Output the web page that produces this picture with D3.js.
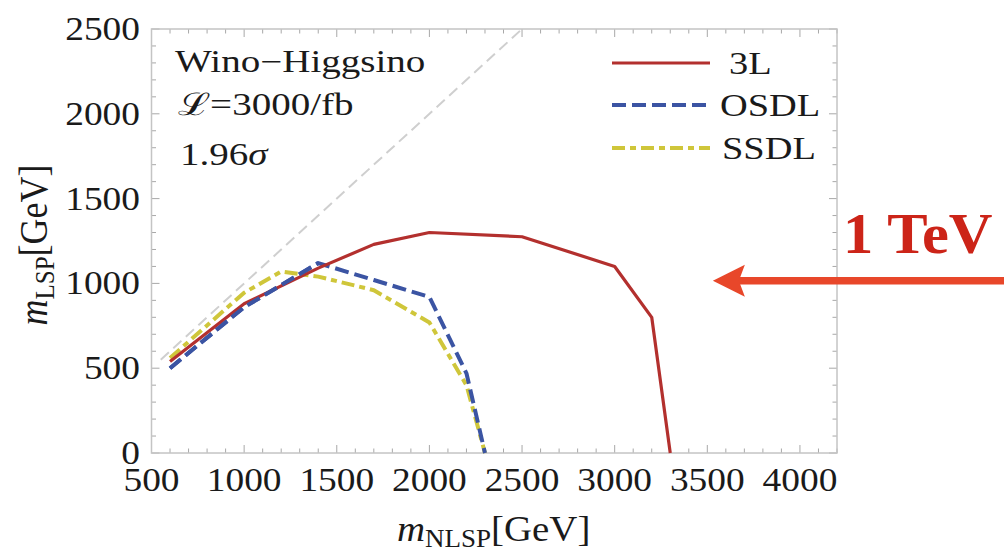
<!DOCTYPE html>
<html><head><meta charset="utf-8">
<script src="https://cdn.jsdelivr.net/npm/d3@7"></script>
<style>
html,body{margin:0;padding:0;background:#fff;}
svg{display:block;}
</style></head>
<body>
<svg id="c" width="1004" height="553" font-family="'Liberation Serif', Tinos, 'Times New Roman', serif"></svg>
<script>
// ---- data (GeV) ----
const xTicks = [500,1000,1500,2000,2500,3000,3500,4000];
const yTicks = [0,500,1000,1500,2000,2500];
const seriesNames = ["3L","OSDL","SSDL"];
const mNLSP_3L   = [600,1000,1400,1700,2000,2500,3000,3200,3300];
const mLSP_3L    = [540, 880,1090,1230,1300,1275,1100, 800,   0];
const mNLSP_OSDL = [600,1000,1400,1700,2000,2200,2300];
const mLSP_OSDL  = [500, 860,1120,1020, 920, 470,   0];
const mNLSP_SSDL = [600,1000,1200,1400,1700,2000,2200,2300];
const mLSP_SSDL  = [560, 945,1070,1040, 960, 770, 400,   0];
const diagX = [550,2500];
const arrowLevel = 1015;   // GeV, level the arrow marks
const arrowTip = 3530;     // GeV

const FONT = "'Liberation Serif', Tinos, 'Times New Roman', serif";
const svg = d3.select("#c");
const L=151.5, R=837, T=29, B=453;
const x = d3.scaleLinear().domain([500,4200]).range([L,R]);
const y = d3.scaleLinear().domain([0,2500]).range([B,T]);

function stext(g, tx, ty, sx, size, anchor){
  return g.append("text")
    .attr("transform",`translate(${tx},${ty}) scale(${sx},1)`)
    .attr("font-family",FONT).attr("fill","#1a1a1a")
    .attr("font-size",size).attr("text-anchor",anchor||"start");
}

// frame & ticks
const frameCol="#c4c4c4", tickCol="#a8a8a8";
const minorX = d3.range(500,4201,100), minorY = d3.range(0,2501,100);
const tk = svg.append("g").attr("stroke",tickCol).attr("stroke-width",1);
minorX.forEach(v=>{
  const len = (v%500===0)?8:4.5;
  tk.append("line").attr("x1",x(v)).attr("x2",x(v)).attr("y1",B).attr("y2",B-len);
  tk.append("line").attr("x1",x(v)).attr("x2",x(v)).attr("y1",T).attr("y2",T+len);
});
minorY.forEach(v=>{
  const len = (v%500===0)?8:4.5;
  tk.append("line").attr("y1",y(v)).attr("y2",y(v)).attr("x1",L).attr("x2",L+len);
  tk.append("line").attr("y1",y(v)).attr("y2",y(v)).attr("x1",R).attr("x2",R-len);
});
svg.append("rect").attr("x",L).attr("y",T).attr("width",R-L).attr("height",B-T)
  .attr("fill","none").attr("stroke",frameCol).attr("stroke-width",1.5);

// tick labels
xTicks.forEach(v=>{ stext(svg, x(v), 491, 1.1, 34, "middle").text(v); });
yTicks.forEach(v=>{ stext(svg, 140, y(v)+11, 1.1, 34, "end").text(v); });

// diagonal
const line = d3.line().x(d=>x(d[0])).y(d=>y(d[1]));
svg.append("path").attr("d", line(diagX.map(v=>[v,v])))
  .attr("fill","none").attr("stroke","#cfcfcf").attr("stroke-width",2)
  .attr("stroke-dasharray","11,6");

// series
const colors = {"3L":"#b3302e","OSDL":"#3b54a3","SSDL":"#cfc63a"};
const dashes = {"3L":null,"OSDL":"14,6","SSDL":"13,5,6,5"};
const widths = {"3L":3.2,"OSDL":4,"SSDL":4};
const data = {
  "3L": d3.zip(mNLSP_3L, mLSP_3L),
  "OSDL": d3.zip(mNLSP_OSDL, mLSP_OSDL),
  "SSDL": d3.zip(mNLSP_SSDL, mLSP_SSDL)
};
["SSDL","OSDL","3L"].forEach(n=>{
  svg.append("path").attr("d", line(data[n])).attr("fill","none")
    .attr("stroke",colors[n]).attr("stroke-width",widths[n])
    .attr("stroke-dasharray",dashes[n]).attr("stroke-linejoin","round");
});
svg.append("path").attr("d", line(data["OSDL"].slice(0,3))).attr("fill","none")
  .attr("stroke",colors["OSDL"]).attr("stroke-width",4).attr("stroke-dasharray","14,6");

// legend
const legY=[63,105,148], legTx=[729,720,722];
seriesNames.forEach((n,i)=>{
  svg.append("line").attr("x1",612).attr("x2",710).attr("y1",legY[i]).attr("y2",legY[i])
    .attr("stroke",colors[n]).attr("stroke-width",widths[n]).attr("stroke-dasharray",dashes[n]);
  stext(svg, legTx[i], legY[i]+11, 1.2, 32).text(n);
});

// annotation
stext(svg, 175, 72, 1.26, 31).text("Wino\u2212Higgsino");
stext(svg, 178, 115, 1.26, 31).text("\u2112=3000/fb");
const s3 = stext(svg, 180, 165, 1.26, 31);
s3.append("tspan").text("1.96");
s3.append("tspan").attr("font-style","italic").text("\u03c3");

// axis labels
const xl = stext(svg, 397, 541, 1.08, 36);
xl.append("tspan").attr("font-style","italic").text("m");
xl.append("tspan").attr("font-size",25).attr("dy",6).text("NLSP");
xl.append("tspan").attr("dy",-6).text("[GeV]");

const yl = svg.append("text").attr("transform","translate(47,245) scale(1.1,1) rotate(-90)")
  .attr("font-family",FONT).attr("fill","#1a1a1a")
  .attr("font-size",36).attr("text-anchor","middle");
yl.append("tspan").attr("font-style","italic").text("m");
yl.append("tspan").attr("font-size",25).attr("dy",6).text("LSP");
yl.append("tspan").attr("dy",-6).text("[GeV]");

// arrow + 1 TeV
const ay = y(arrowLevel), ax = x(arrowTip);
svg.append("line").attr("x1",ax+25).attr("x2",1010).attr("y1",ay).attr("y2",ay)
  .attr("stroke","#e8472a").attr("stroke-width",7.5);
svg.append("path").attr("d",`M${ax},${ay} L${ax+32},${ay-16} L${ax+26},${ay} L${ax+32},${ay+16} Z`)
  .attr("fill","#e8472a");
svg.append("text").attr("transform","translate(843,253) scale(1.08,1)")
  .attr("font-family",FONT).attr("font-size",56).attr("font-weight","bold")
  .attr("fill","#cc2418").text("1 TeV");
</script>
</body></html>
